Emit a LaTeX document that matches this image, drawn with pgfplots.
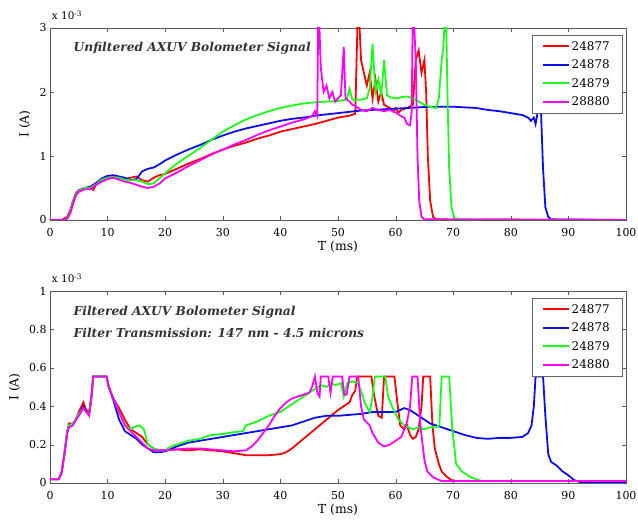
\documentclass[border=0pt]{standalone}
\usepackage{pgfplots}
\pgfplotsset{compat=1.18}
\usepackage{fontspec}
\setmainfont{DejaVu Serif}
\definecolor{cR}{rgb}{1,0,0}
\definecolor{cB}{rgb}{0.05,0.05,0.95}
\definecolor{cG}{rgb}{0.1,1,0.1}
\definecolor{cM}{rgb}{1,0,1}
\pgfplotsset{
  legend image code/.code={\draw[#1, line width=1.8pt] (0bp,0.3bp) -- (26bp,0.3bp);},
}
\pgfplotsset{common/.style={
  width=576bp, height=192bp, scale only axis,
  clip mode=individual,
  xmin=0, xmax=100, xtick={0,10,...,100},
  tick align=inside, xtick pos=both, ytick pos=both,
  major tick length=4bp,
  axis line style={black!65}, tick style={black!65},
  xlabel={T (ms)}, ylabel={I (A)},
  xticklabel shift=5bp, ylabel shift=2bp, xlabel shift=-3bp,
  label style={font=\fontsize{12.5}{14}\selectfont},
  tick label style={font=\fontsize{11}{13}\selectfont},
  /pgf/number format/assume math mode=true,
  every axis plot/.append style={line width=1.8pt},
  legend style={at={(rel axis cs:0.993,0.963)}, anchor=north east, draw=black!60, fill=white,
     font=\fontsize{12}{13}\selectfont, row sep=4.2bp, inner xsep=10bp, inner ysep=4bp,
     /tikz/every even column/.append style={column sep=9bp}},
  legend cell align=left,
}}
\begin{document}
\begin{tikzpicture}
\path[use as bounding box] (-50bp,-307bp) rectangle (588bp,220bp);
% ---------------- top ----------------
\begin{axis}[common, at={(0bp,0bp)}, ymin=0, ymax=3, ytick={0,1,2,3}]
\addplot[cR] coordinates {(0,0) (2,0) (3,0.05) (3.5,0.15) (4,0.3) (4.5,0.42) (5,0.46) (6,0.5) (7,0.5) (7.5,0.47) (8,0.55) (9,0.62) (10,0.66) (11,0.67) (12,0.65) (13,0.64) (14,0.66) (15,0.68) (16,0.62) (17,0.6) (18,0.66) (19,0.7) (20,0.72) (22,0.8) (24,0.88) (26,0.95) (28,1.03) (30,1.1) (32,1.16) (34,1.21) (36,1.27) (38,1.32) (40,1.38) (42,1.42) (44,1.46) (46,1.5) (48,1.55) (50,1.6) (52,1.63) (53,1.66) (53.5,3.5) (54,2.5) (54.5,2.3) (55,2.1) (55.5,2.3) (56,1.9) (56.5,2.2) (57,1.85) (57.5,2.0) (58,1.8) (59,1.75) (59.5,1.7) (60,1.75) (60.5,1.68) (61,1.72) (62,1.75) (63,1.8) (63.5,2.5) (64,2.65) (64.5,2.3) (65,2.5) (65.3,2.0) (65.6,1.0) (66,0.3) (66.5,0.05) (67,0.01) (100,0)};
\addplot[cB] coordinates {(0,0) (2.5,0) (3,0.03) (3.5,0.12) (4,0.28) (4.5,0.4) (5,0.46) (6,0.5) (7,0.52) (8,0.58) (9,0.65) (10,0.69) (11,0.7) (12,0.68) (13,0.66) (14,0.62) (15,0.64) (15.5,0.7) (16,0.76) (17,0.8) (18,0.82) (19,0.87) (20,0.93) (22,1.02) (24,1.1) (26,1.17) (28,1.25) (30,1.32) (32,1.38) (34,1.43) (36,1.47) (38,1.51) (40,1.55) (42,1.58) (44,1.6) (46,1.63) (48,1.65) (50,1.67) (52,1.69) (54,1.71) (56,1.72) (58,1.73) (60,1.74) (62,1.75) (64,1.76) (66,1.77) (68,1.77) (70,1.77) (72,1.76) (74,1.75) (76,1.72) (78,1.7) (80,1.67) (82,1.64) (83,1.6) (83.5,1.55) (84,1.6) (84.3,1.5) (84.6,1.65) (84.8,2.3) (85.2,1.8) (85.6,0.8) (86,0.2) (86.5,0.05) (87,0.01) (100,0)};
\addplot[cG] coordinates {(0,0) (2.5,0) (3,0.03) (3.5,0.12) (4,0.28) (4.5,0.4) (5,0.45) (6,0.5) (7,0.5) (8,0.56) (9,0.63) (10,0.66) (11,0.67) (12,0.66) (13,0.63) (14,0.62) (15,0.62) (16,0.6) (17,0.56) (18,0.57) (19,0.65) (20,0.73) (22,0.88) (24,1.0) (26,1.12) (28,1.25) (30,1.38) (32,1.48) (34,1.57) (36,1.64) (38,1.7) (40,1.75) (42,1.79) (44,1.82) (46,1.84) (48,1.85) (50,1.86) (51.5,1.88) (52,2.05) (52.5,1.88) (54,1.88) (55,1.9) (55.5,2.05) (56,2.75) (56.5,2.0) (57,2.2) (57.5,1.95) (58,2.5) (58.5,1.95) (59,1.92) (60,1.9) (61,1.92) (62,1.93) (63,1.9) (64,1.85) (65,1.8) (66,1.77) (67,1.75) (67.5,1.9) (68,2.5) (68.3,2.7) (68.7,3.5) (69,2.0) (69.3,0.8) (69.7,0.2) (70.2,0.03) (71,0.01) (100,0)};
\addplot[cM] coordinates {(0,0) (2.5,0) (3,0.02) (3.5,0.1) (4,0.25) (4.5,0.38) (5,0.44) (6,0.48) (7,0.48) (8,0.55) (9,0.6) (10,0.64) (11,0.66) (12,0.63) (13,0.6) (14,0.58) (15,0.55) (16,0.52) (17,0.5) (18,0.52) (19,0.57) (20,0.65) (22,0.74) (24,0.84) (26,0.93) (28,1.02) (30,1.1) (32,1.18) (34,1.25) (36,1.33) (38,1.4) (40,1.46) (42,1.52) (44,1.57) (45.5,1.62) (46,1.7) (46.4,1.62) (46.6,3.5) (47,2.4) (47.5,2.0) (48,2.1) (48.5,1.9) (49,2.0) (49.5,1.85) (50,1.9) (50.5,1.95) (51,2.7) (51.3,1.9) (52,1.85) (52.5,1.8) (53,1.78) (54,1.72) (55,1.7) (56,1.75) (57,1.72) (58,1.7) (59,1.72) (60,1.68) (61,1.62) (61.5,1.6) (62,1.5) (62.5,1.48) (62.8,1.7) (63,3.5) (63.5,2.5) (63.8,1.0) (64.1,0.3) (64.5,0.05) (65,0.01) (100,0)};
\legend{24877,24878,24879,28880}
\node[anchor=west, font=\fontsize{12.3}{14}\selectfont\bfseries\itshape, text=black!80] at (rel axis cs:0.035,0.895) {Unfiltered AXUV Bolometer Signal};
\node[anchor=south west, inner sep=0pt, font=\fontsize{10.5}{12}\selectfont] at (rel axis cs:0.003,1.04) {x 10\textsuperscript{-3}};
\end{axis}
% ---------------- bottom ----------------
\begin{axis}[common, at={(0bp,-263bp)}, ymin=0, ymax=1, ytick={0,0.2,...,1}]
\addplot[cR] coordinates {(0,0.02) (1.5,0.02) (2,0.05) (2.5,0.15) (3,0.27) (3.3,0.31) (4,0.31) (4.5,0.33) (5,0.37) (5.8,0.42) (6.3,0.38) (6.8,0.37) (7.2,0.45) (7.5,0.555) (9.8,0.555) (10.2,0.5) (11,0.44) (12,0.39) (13,0.33) (14,0.28) (15,0.26) (16,0.24) (17,0.2) (18,0.18) (19,0.17) (20,0.17) (22,0.175) (24,0.17) (26,0.175) (28,0.17) (30,0.165) (32,0.155) (34,0.145) (36,0.145) (38,0.145) (40,0.15) (41,0.16) (42,0.18) (44,0.23) (46,0.28) (48,0.33) (50,0.38) (51,0.4) (52,0.42) (52.5,0.46) (53,0.48) (53.3,0.555) (55.8,0.555) (56.3,0.45) (57,0.35) (57.6,0.34) (58,0.555) (59.8,0.555) (60.3,0.42) (60.8,0.3) (61.5,0.28) (62,0.3) (62.5,0.25) (63,0.23) (63.5,0.24) (64,0.28) (64.5,0.4) (64.8,0.555) (66,0.555) (66.4,0.3) (66.8,0.18) (67.5,0.1) (68,0.06) (69,0.03) (70,0.01) (100,0.01)};
\addplot[cB] coordinates {(0,0.02) (1.5,0.02) (2,0.05) (2.5,0.15) (3,0.27) (3.3,0.3) (4,0.31) (4.5,0.33) (5,0.36) (5.8,0.4) (6.3,0.37) (6.8,0.36) (7.2,0.45) (7.5,0.555) (9.8,0.555) (10.2,0.5) (11,0.43) (12,0.33) (13,0.27) (14,0.25) (15,0.23) (16,0.2) (17,0.18) (18,0.16) (19,0.16) (20,0.165) (22,0.19) (24,0.21) (26,0.22) (28,0.23) (30,0.24) (32,0.25) (34,0.26) (36,0.27) (38,0.28) (40,0.29) (42,0.3) (44,0.32) (46,0.34) (48,0.35) (50,0.35) (52,0.355) (54,0.36) (56,0.37) (58,0.37) (60,0.37) (61.5,0.39) (62.5,0.38) (64,0.35) (66,0.31) (68,0.29) (70,0.27) (72,0.25) (74,0.235) (76,0.23) (78,0.235) (80,0.235) (82,0.24) (83,0.26) (83.6,0.3) (84,0.4) (84.3,0.555) (85.6,0.555) (86,0.35) (86.5,0.15) (87,0.11) (88,0.09) (89,0.06) (90,0.04) (91,0.015) (92,0.005) (100,0.005)};
\addplot[cG] coordinates {(0,0.02) (1.5,0.02) (2,0.05) (2.5,0.15) (3,0.27) (3.3,0.3) (4,0.31) (4.5,0.33) (5,0.36) (5.8,0.39) (6.3,0.37) (6.8,0.36) (7.2,0.45) (7.5,0.555) (9.8,0.555) (10.2,0.5) (11,0.44) (12,0.37) (13,0.3) (14,0.28) (14.5,0.29) (15.5,0.3) (16.3,0.28) (17,0.2) (18,0.18) (19,0.17) (20,0.17) (21,0.19) (22,0.2) (24,0.22) (26,0.23) (28,0.25) (30,0.255) (32,0.265) (33.5,0.27) (34,0.3) (36,0.32) (38,0.35) (40,0.37) (42,0.41) (44,0.45) (45,0.47) (46,0.49) (47,0.51) (48,0.5) (48.8,0.52) (49.5,0.51) (50.5,0.52) (51,0.45) (51.6,0.52) (52.5,0.53) (53.5,0.52) (54.2,0.46) (54.6,0.42) (55.5,0.37) (56,0.45) (56.4,0.555) (58.2,0.555) (58.7,0.45) (59.5,0.39) (60.5,0.33) (61.5,0.3) (62.2,0.29) (63,0.28) (64,0.29) (65,0.28) (66,0.29) (67,0.29) (67.6,0.3) (68,0.555) (69.3,0.555) (69.8,0.3) (70.5,0.1) (71.5,0.06) (73,0.03) (75,0.01) (100,0.01)};
\addplot[cM] coordinates {(0,0.02) (1.5,0.02) (2,0.05) (2.5,0.15) (3,0.26) (3.3,0.29) (4,0.3) (4.5,0.33) (5,0.35) (5.8,0.39) (6.3,0.37) (6.8,0.35) (7.2,0.45) (7.5,0.555) (9.8,0.555) (10.2,0.5) (11,0.44) (12,0.37) (13,0.3) (14,0.27) (15,0.24) (16,0.21) (17,0.18) (18,0.17) (19,0.17) (20,0.17) (22,0.175) (24,0.18) (26,0.18) (28,0.175) (30,0.17) (32,0.165) (34,0.17) (35,0.19) (36,0.22) (37,0.26) (38,0.3) (39,0.35) (40,0.39) (41,0.42) (42,0.44) (43,0.45) (44,0.46) (45,0.47) (45.5,0.5) (46,0.555) (46.4,0.47) (46.8,0.45) (47,0.555) (48.3,0.555) (48.7,0.47) (49.1,0.555) (50.7,0.555) (51.1,0.46) (51.5,0.46) (52,0.555) (53.5,0.555) (54,0.4) (54.5,0.33) (55.5,0.3) (56,0.26) (57,0.21) (58,0.19) (59,0.2) (60,0.22) (61,0.24) (62,0.32) (62.5,0.4) (62.9,0.555) (63.8,0.555) (64.3,0.3) (65,0.12) (65.5,0.06) (66.5,0.03) (68,0.01) (100,0.01)};
\legend{24877,24878,24879,24880}
\node[anchor=west, font=\fontsize{12.3}{14}\selectfont\bfseries\itshape, text=black!80] at (rel axis cs:0.035,0.89) {Filtered AXUV Bolometer Signal};
\node[anchor=west, font=\fontsize{12.3}{14}\selectfont\bfseries\itshape, text=black!80] at (rel axis cs:0.035,0.78) {Filter Transmission: 147 nm - 4.5 microns};
\node[anchor=south west, inner sep=0pt, font=\fontsize{10.5}{12}\selectfont] at (rel axis cs:0.003,1.04) {x 10\textsuperscript{-3}};
\end{axis}
\end{tikzpicture}
\end{document}
